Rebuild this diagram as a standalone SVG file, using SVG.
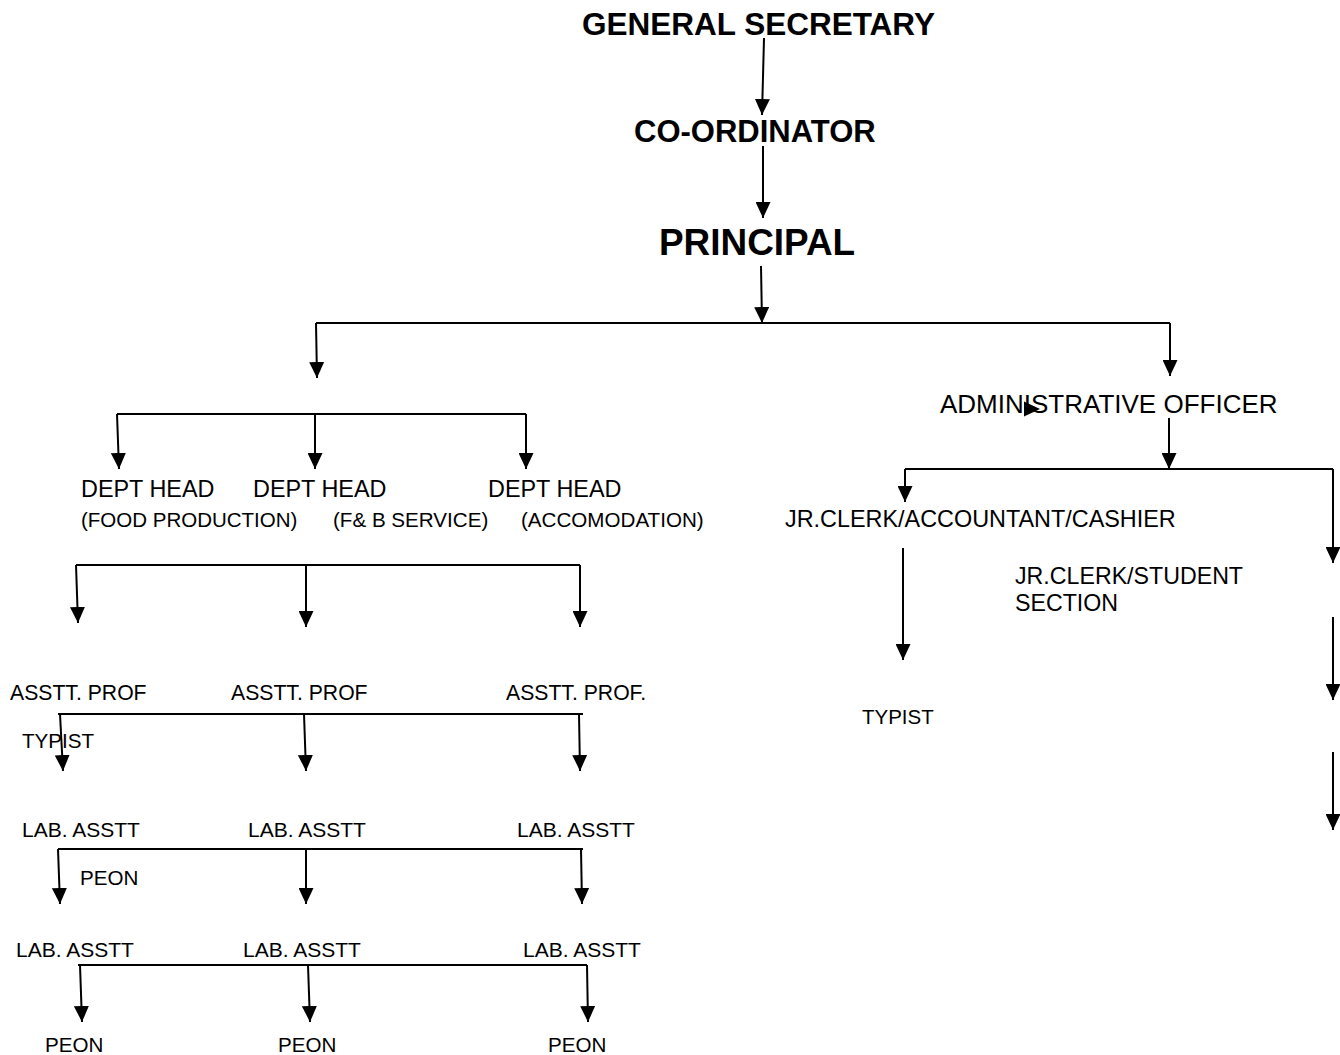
<svg xmlns="http://www.w3.org/2000/svg" width="1340" height="1055" viewBox="0 0 1340 1055">
<style>
text{font-family:"Liberation Sans",Arial,sans-serif;fill:#000}
.b{font-weight:bold}
.c line{stroke:#000;stroke-width:2}
.a{marker-end:url(#ah)}
</style>
<defs>
<marker id="ah" markerUnits="userSpaceOnUse" markerWidth="16" markerHeight="15" refX="16" refY="7.5" orient="auto" viewBox="0 0 16 15">
<path d="M0,0 L16,7.5 L0,15 z" fill="#000"/>
</marker>
</defs>
<rect width="1340" height="1055" fill="#fff"/>
<g id="connectors" class="c">
<line class="a" x1="764" y1="38" x2="762" y2="115"/>
<line class="a" x1="763" y1="146" x2="763" y2="218"/>
<line class="a" x1="761" y1="266" x2="762" y2="323"/>
<line x1="316" y1="323" x2="1170" y2="323"/>
<line class="a" x1="316" y1="323" x2="317" y2="378"/>
<line class="a" x1="1170" y1="323" x2="1170" y2="376"/>
<line x1="117" y1="414" x2="526" y2="414"/>
<line class="a" x1="117" y1="414" x2="119" y2="469"/>
<line class="a" x1="315" y1="414" x2="315" y2="469"/>
<line class="a" x1="526" y1="414" x2="526" y2="469"/>
<line x1="76" y1="565" x2="580" y2="565"/>
<line class="a" x1="76" y1="565" x2="78" y2="623"/>
<line class="a" x1="306" y1="565" x2="306" y2="627"/>
<line class="a" x1="580" y1="565" x2="580" y2="627"/>
<line x1="58" y1="714" x2="583" y2="714"/>
<line class="a" x1="60" y1="714" x2="63" y2="771"/>
<line class="a" x1="304" y1="714" x2="306" y2="771"/>
<line class="a" x1="579" y1="714" x2="580" y2="771"/>
<line x1="58" y1="849" x2="583" y2="849"/>
<line class="a" x1="58" y1="849" x2="60" y2="904"/>
<line class="a" x1="306" y1="849" x2="306" y2="904"/>
<line class="a" x1="581" y1="849" x2="582" y2="904"/>
<line x1="78" y1="965" x2="587" y2="965"/>
<line class="a" x1="80" y1="965" x2="82" y2="1022"/>
<line class="a" x1="308" y1="965" x2="310" y2="1022"/>
<line class="a" x1="587" y1="965" x2="588" y2="1022"/>
<line class="a" x1="1169" y1="418" x2="1169" y2="469"/>
<line x1="905" y1="469" x2="1333" y2="469"/>
<line class="a" x1="905" y1="469" x2="905" y2="502"/>
<line class="a" x1="1333" y1="469" x2="1333" y2="563"/>
<line class="a" x1="1333" y1="617" x2="1333" y2="700"/>
<line class="a" x1="1333" y1="752" x2="1333" y2="830"/>
<line class="a" x1="903" y1="548" x2="903" y2="660"/>
<path d="M1024,401.5 L1040,409 L1024,416.5 z" fill="#000"/>
</g>
<g id="general-secretary"><text class="b" x="582" y="35" font-size="31.5">GENERAL SECRETARY</text></g>
<g id="co-ordinator"><text class="b" x="634" y="142" font-size="31">CO-ORDINATOR</text></g>
<g id="principal"><text class="b" x="659" y="255" font-size="36.9">PRINCIPAL</text></g>
<g id="admin-officer"><text x="940" y="413" font-size="26">ADMINISTRATIVE OFFICER</text></g>
<g id="dept-food"><text x="81" y="497" font-size="23.4">DEPT HEAD</text><text x="81" y="527" font-size="20.5">(FOOD PRODUCTION)</text></g>
<g id="dept-fb"><text x="253" y="497" font-size="23.4">DEPT HEAD</text><text x="333" y="527" font-size="20.6">(F&amp; B SERVICE)</text></g>
<g id="dept-acc"><text x="488" y="497" font-size="23.4">DEPT HEAD</text><text x="521" y="527" font-size="20.6">(ACCOMODATION)</text></g>
<g id="jr-clerk-acc"><text x="785" y="527" font-size="23.4">JR.CLERK/ACCOUNTANT/CASHIER</text></g>
<g id="jr-clerk-student"><text x="1015" y="584" font-size="23.2">JR.CLERK/STUDENT</text><text x="1015" y="611" font-size="23.2">SECTION</text></g>
<g id="typist-right"><text x="862" y="724" font-size="20.5">TYPIST</text></g>
<g id="asstt-prof-1"><text x="10" y="700" font-size="21.2">ASSTT. PROF</text></g>
<g id="asstt-prof-2"><text x="231" y="700" font-size="21.2">ASSTT. PROF</text></g>
<g id="asstt-prof-3"><text x="506" y="700" font-size="21.2">ASSTT. PROF.</text></g>
<g id="typist-left"><text x="22" y="748" font-size="20.6">TYPIST</text></g>
<g id="lab-asstt-1"><text x="22" y="837" font-size="21">LAB. ASSTT</text></g>
<g id="lab-asstt-2"><text x="248" y="837" font-size="21">LAB. ASSTT</text></g>
<g id="lab-asstt-3"><text x="517" y="837" font-size="21">LAB. ASSTT</text></g>
<g id="peon-mid"><text x="80" y="885" font-size="20.6">PEON</text></g>
<g id="lab-asstt-4"><text x="16" y="957" font-size="21">LAB. ASSTT</text></g>
<g id="lab-asstt-5"><text x="243" y="957" font-size="21">LAB. ASSTT</text></g>
<g id="lab-asstt-6"><text x="523" y="957" font-size="21">LAB. ASSTT</text></g>
<g id="peon-1"><text x="45" y="1052" font-size="20.6">PEON</text></g>
<g id="peon-2"><text x="278" y="1052" font-size="20.6">PEON</text></g>
<g id="peon-3"><text x="548" y="1052" font-size="20.6">PEON</text></g>
</svg>
